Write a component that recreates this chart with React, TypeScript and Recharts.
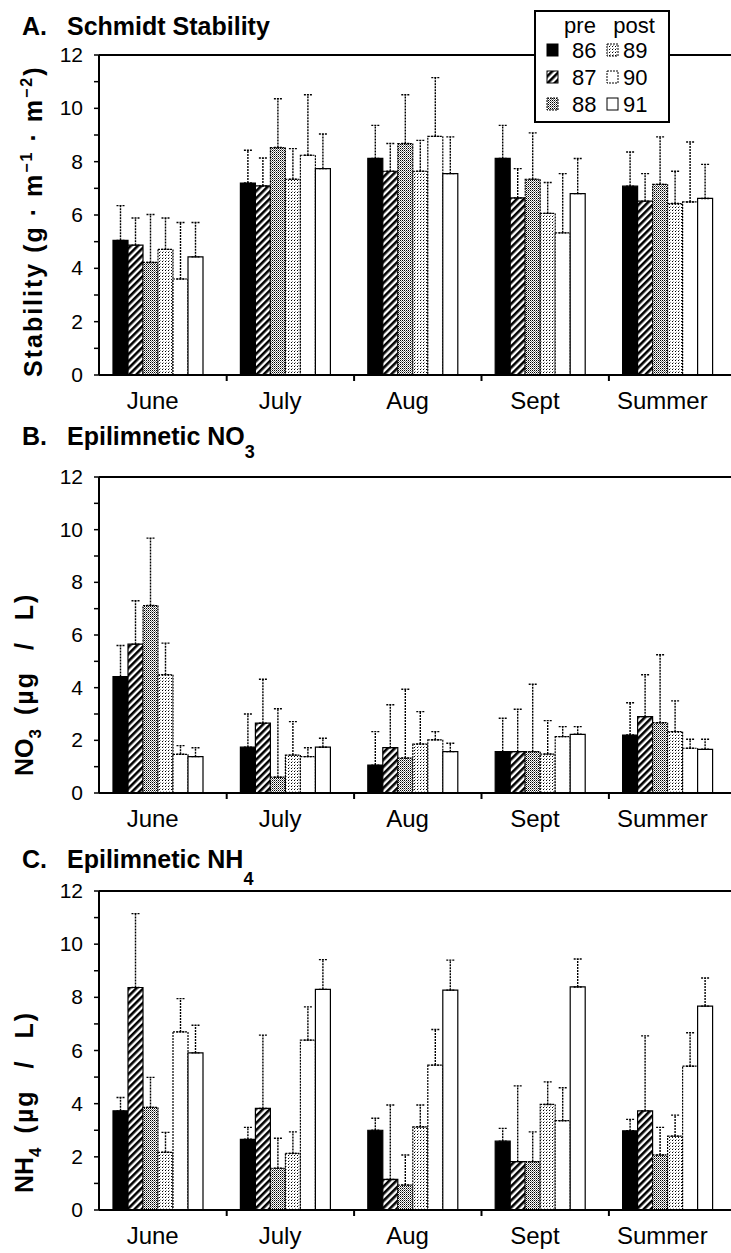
import React from 'react';
import { BarChart, Bar, XAxis, YAxis, ErrorBar, ReferenceLine } from 'recharts';

const months = ['June', 'July', 'Aug', 'Sept', 'Summer'];
const years = ['86', '87', '88', '89', '90', '91'];
const yTicks = [0, 1, 2, 3, 4, 5, 6, 7, 8, 9, 10, 11, 12];

// A. Schmidt stability
const stab86 = [5.05, 7.2, 8.12, 8.12, 7.08];
const stab87 = [4.87, 7.09, 7.64, 6.64, 6.52];
const stab88 = [4.22, 8.53, 8.68, 7.34, 7.15];
const stab89 = [4.71, 7.34, 7.64, 6.06, 6.43];
const stab90 = [3.6, 8.24, 8.95, 5.33, 6.49];
const stab91 = [4.43, 7.74, 7.55, 6.8, 6.62];
const stab86Err = [1.3, 1.23, 1.24, 1.24, 1.28];
const stab87Err = [1.02, 1.05, 1.04, 1.1, 1.03];
const stab88Err = [1.8, 1.83, 1.83, 1.74, 1.78];
const stab89Err = [1.18, 1.15, 1.16, 1.16, 1.21];
const stab90Err = [2.12, 2.27, 2.2, 2.22, 2.25];
const stab91Err = [1.29, 1.3, 1.38, 1.32, 1.28];

// B. Epilimnetic NO3
const no86 = [4.42, 1.74, 1.06, 1.57, 2.2];
const no87 = [5.65, 2.65, 1.72, 1.57, 2.9];
const no88 = [7.12, 0.6, 1.33, 1.57, 2.67];
const no89 = [4.49, 1.44, 1.86, 1.48, 2.33];
const no90 = [1.47, 1.38, 2.02, 2.14, 1.7];
const no91 = [1.38, 1.74, 1.57, 2.23, 1.66];
const no86Err = [1.18, 1.26, 1.27, 1.27, 1.23];
const no87Err = [1.65, 1.67, 1.63, 1.61, 1.59];
const no88Err = [2.56, 2.6, 2.61, 2.56, 2.58];
const no89Err = [1.2, 1.27, 1.23, 1.27, 1.17];
const no90Err = [0.33, 0.34, 0.31, 0.38, 0.34];
const no91Err = [0.34, 0.34, 0.32, 0.29, 0.38];

// C. Epilimnetic NH4
const nh86 = [3.73, 2.66, 3.0, 2.59, 2.98];
const nh87 = [8.37, 3.82, 1.15, 1.82, 3.73];
const nh88 = [3.86, 1.57, 0.94, 1.82, 2.07];
const nh89 = [2.17, 2.13, 3.13, 3.97, 2.78];
const nh90 = [6.7, 6.39, 5.45, 3.36, 5.41];
const nh91 = [5.91, 8.3, 8.27, 8.39, 7.67];
const nh86Err = [0.5, 0.45, 0.45, 0.48, 0.43];
const nh87Err = [2.78, 2.76, 2.8, 2.85, 2.82];
const nh88Err = [1.13, 1.13, 1.13, 1.12, 1.04];
const nh89Err = [0.75, 0.81, 0.82, 0.85, 0.79];
const nh90Err = [1.25, 1.25, 1.34, 1.24, 1.26];
const nh91Err = [1.04, 1.12, 1.13, 1.05, 1.06];

function buildRows(vals: number[][], errs: number[][]) {
  return months.map((m, i) => {
    const row: any = { month: m };
    years.forEach((y, j) => {
      row['v' + y] = vals[j][i];
      row['e' + y] = [0, errs[j][i]];
    });
    return row;
  });
}

const dataA = buildRows(
  [stab86, stab87, stab88, stab89, stab90, stab91],
  [stab86Err, stab87Err, stab88Err, stab89Err, stab90Err, stab91Err]
);
const dataB = buildRows(
  [no86, no87, no88, no89, no90, no91],
  [no86Err, no87Err, no88Err, no89Err, no90Err, no91Err]
);
const dataC = buildRows(
  [nh86, nh87, nh88, nh89, nh90, nh91],
  [nh86Err, nh87Err, nh88Err, nh89Err, nh90Err, nh91Err]
);

const seriesStyle: Record<string, { fill: string; dash?: string }> = {
  '86': { fill: '#000' },
  '87': { fill: 'url(#p87)' },
  '88': { fill: 'url(#p88)', dash: '2 1' },
  '89': { fill: 'url(#p89)', dash: '2 1' },
  '90': { fill: '#fff', dash: '2 1' },
  '91': { fill: '#fff' },
};

const FONT = '"Liberation Sans", Arial, Helvetica, sans-serif';

const MonthTick = (props: any) => {
  const { x, y, payload, index } = props;
  return (
    <g>
      <text x={x - 5} y={y + 34} textAnchor="middle" fontSize={24} fill="#000" fontFamily={FONT}>
        {payload.value}
      </text>
      {index < 4 ? (
        <line x1={x + 69} x2={x + 69} y1={y} y2={y + 6} stroke="#000" strokeWidth={2} />
      ) : null}
    </g>
  );
};

const NumTick = (props: any) => {
  const { x, y, payload } = props;
  if (payload.value % 2 !== 0) return <g />;
  return (
    <text x={x} y={y} dy={7} textAnchor="end" fontSize={21} fill="#000" fontFamily={FONT}>
      {payload.value}
    </text>
  );
};

function Panel({ data, top, height, marginTop, xAxisHeight }: any) {
  return (
    <div style={{ position: 'absolute', left: 0, top }}>
      <BarChart
        width={731}
        height={height}
        data={data}
        margin={{ top: marginTop, right: 0, left: 0, bottom: 0 }}
        barGap={0}
        barSize={15}
      >
        <XAxis
          dataKey="month"
          height={xAxisHeight}
          padding={{ left: -5, right: 0 }}
          axisLine={{ stroke: '#000', strokeWidth: 2 }}
          tickLine={false}
          tickSize={0}
          tickMargin={0}
          interval={0}
          tick={MonthTick}
        />
        <YAxis
          width={99}
          type="number"
          domain={[0, 12]}
          ticks={yTicks}
          interval={0}
          allowDataOverflow
          axisLine={{ stroke: '#000', strokeWidth: 2 }}
          tickLine={{ stroke: '#000', strokeWidth: 1.5 }}
          tickSize={5}
          tickMargin={11}
          tick={NumTick}
        />
        <ReferenceLine y={12} stroke="#000" strokeWidth={2} />
        {years.map((y) => (
          <Bar
            key={y}
            dataKey={'v' + y}
            fill={seriesStyle[y].fill}
            stroke="#000"
            strokeWidth={1.2}
            strokeDasharray={seriesStyle[y].dash}
            isAnimationActive={false}
          >
            <ErrorBar
              dataKey={'e' + y}
              direction="y"
              width={4}
              stroke="#000"
              strokeWidth={1.4}
              strokeDasharray="2 1"
            />
          </Bar>
        ))}
      </BarChart>
    </div>
  );
}

function LegendRow({ y, a, b, la, lb }: any) {
  return (
    <g>
      <rect x={13} y={y - 14} width={11} height={12} fill={seriesStyle[a].fill} stroke="#000" strokeWidth={1} strokeDasharray={seriesStyle[a].dash} />
      <text x={38} y={y} fontSize={22} fill="#000">{la}</text>
      <rect x={73} y={y - 14} width={11} height={12} fill={seriesStyle[b].fill} stroke="#000" strokeWidth={1} strokeDasharray={seriesStyle[b].dash} />
      <text x={89} y={y} fontSize={22} fill="#000">{lb}</text>
    </g>
  );
}

export default function App() {
  return (
    <div
      style={{
        position: 'absolute',
        left: 0,
        top: 0,
        width: 731,
        height: 1253,
        overflow: 'hidden',
        background: '#fff',
        fontFamily: FONT,
      }}
    >
      <svg width={0} height={0} style={{ position: 'absolute' }}>
        <defs>
          <pattern id="p87" width="5" height="5" patternUnits="userSpaceOnUse" patternTransform="rotate(45)">
            <rect width="5" height="5" fill="#fff" />
            <rect width="2.6" height="5" fill="#000" />
          </pattern>
          <pattern id="p88" width="2" height="2" patternUnits="userSpaceOnUse">
            <rect width="2" height="2" fill="#fff" />
            <rect width="1" height="1" fill="#000" />
            <rect x="1" y="1" width="1" height="1" fill="#777" />
          </pattern>
          <pattern id="p89" width="3" height="3" patternUnits="userSpaceOnUse">
            <rect width="3" height="3" fill="#fff" />
            <rect width="1" height="1" fill="#000" />
            <rect x="1" y="2" width="1" height="1" fill="#999" />
          </pattern>
        </defs>
      </svg>

      <Panel data={dataA} top={0} height={420} marginTop={55} xAxisHeight={45} />
      <Panel data={dataB} top={420} height={420} marginTop={57} xAxisHeight={47} />
      <Panel data={dataC} top={840} height={413} marginTop={51} xAxisHeight={43} />

      <svg
        width={731}
        height={1253}
        style={{ position: 'absolute', left: 0, top: 0, pointerEvents: 'none' }}
        fontFamily={FONT}
      >
        {/* titles */}
        <text x={22} y={35} fontSize={25} fontWeight="bold" fill="#000">
          A.<tspan x={67}>Schmidt Stability</tspan>
        </text>
        <text x={22} y={445} fontSize={25} fontWeight="bold" fill="#000">
          B.<tspan x={67}>Epilimnetic NO</tspan>
          <tspan dy={13} fontSize={18}>3</tspan>
        </text>
        <text x={22} y={868} fontSize={25} fontWeight="bold" fill="#000">
          C.<tspan x={67}>Epilimnetic NH</tspan>
          <tspan dy={17} fontSize={18}>4</tspan>
        </text>

        {/* y-axis labels */}
        <text transform="translate(42,377) rotate(-90)" fontSize={25} fontWeight="bold" fill="#000" letterSpacing={2}>
          Stability (g · m<tspan dy={-10} fontSize={16}>−1</tspan>
          <tspan dy={10}> · m</tspan>
          <tspan dy={-10} fontSize={16}>−2</tspan>
          <tspan dy={10}>)</tspan>
        </text>
        <text transform="translate(33,776) rotate(-90)" fontSize={25} fontWeight="bold" fill="#000">
          NO<tspan dy={8} fontSize={17}>3</tspan>
          <tspan dy={-8} dx={14} letterSpacing={2} wordSpacing={12}>(µg / L)</tspan>
        </text>
        <text transform="translate(33,1193) rotate(-90)" fontSize={25} fontWeight="bold" fill="#000">
          NH<tspan dy={8} fontSize={17}>4</tspan>
          <tspan dy={-8} dx={14} letterSpacing={2} wordSpacing={12}>(µg / L)</tspan>
        </text>

        {/* legend */}
        <g transform="translate(534,10)">
          <rect x={1} y={1} width={134} height={111} fill="#fff" stroke="#000" strokeWidth={2} />
          <text x={46} y={23} fontSize={22} textAnchor="middle" fill="#000">pre</text>
          <text x={100} y={23} fontSize={22} textAnchor="middle" fill="#000">post</text>
          <LegendRow y={48} a="86" b="89" la="86" lb="89" />
          <LegendRow y={75} a="87" b="90" la="87" lb="90" />
          <LegendRow y={102} a="88" b="91" la="88" lb="91" />
        </g>
      </svg>
    </div>
  );
}
